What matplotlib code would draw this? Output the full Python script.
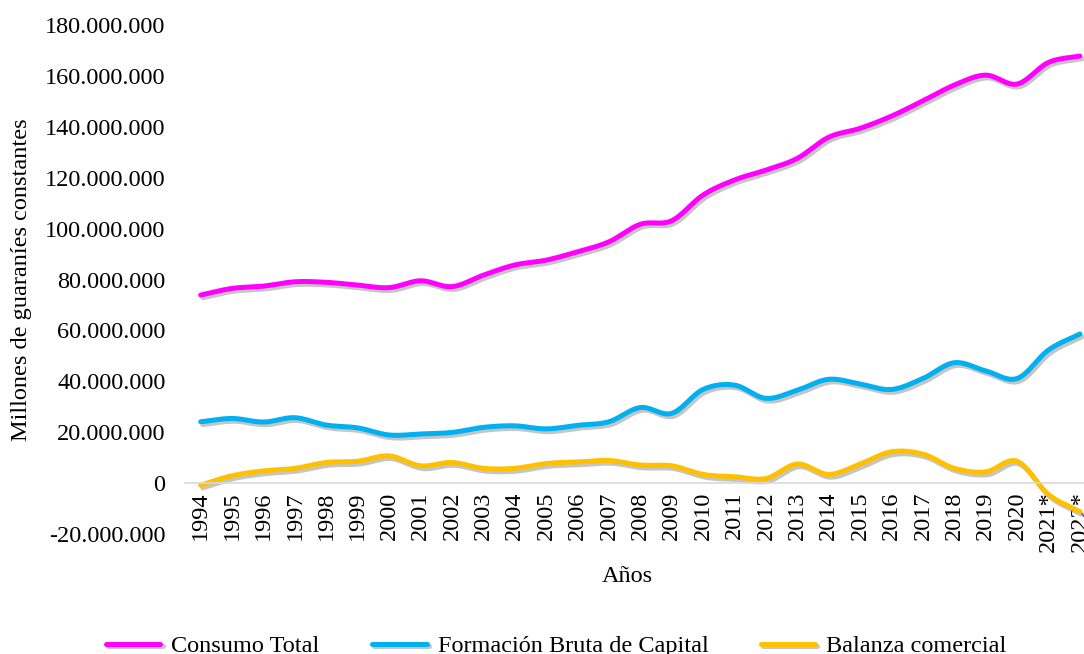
import numpy as np
import matplotlib
matplotlib.use("Agg")
import matplotlib.pyplot as plt
import matplotlib.patheffects as pe
from matplotlib.ticker import FuncFormatter

plt.rcParams['font.family'] = ['Liberation Serif', 'DejaVu Serif']

# datos (millones de guaranies constantes)
anios = ['1994', '1995', '1996', '1997', '1998', '1999', '2000', '2001', '2002', '2003',
         '2004', '2005', '2006', '2007', '2008', '2009', '2010', '2011', '2012', '2013',
         '2014', '2015', '2016', '2017', '2018', '2019', '2020', '2021*', '2022*']

consumo = [73.9, 76.5, 77.4, 79.1, 78.9, 77.8, 76.8, 79.5, 77.2, 81.7,
           85.7, 87.6, 90.9, 94.8, 101.7, 103.1, 113.2, 119.1, 123.0, 127.6,
           135.9, 139.4, 144.2, 150.2, 156.4, 160.3, 156.8, 165.3, 167.8]

fbk = [24.1, 25.4, 24.0, 25.7, 22.8, 21.7, 18.9, 19.3, 19.9, 21.9,
       22.5, 21.3, 22.7, 24.1, 29.7, 27.4, 36.8, 38.5, 33.3, 36.5,
       40.8, 38.9, 36.8, 41.1, 47.3, 44.1, 41.1, 52.3, 58.6]

balanza = [-0.8, 2.9, 4.8, 5.8, 8.1, 8.6, 10.7, 6.8, 8.1, 5.8,
           5.8, 7.7, 8.3, 8.9, 7.1, 6.8, 3.4, 2.5, 1.8, 7.5,
           3.4, 7.5, 12.3, 11.4, 5.8, 4.4, 8.6, -4.5, -11.2]

series = [('Consumo Total', consumo, '#FF00FF'),
          ('Formación Bruta de Capital', fbk, '#00B0F0'),
          ('Balanza comercial', balanza, '#FFC000')]


# suavizado tipo excel (catmull-rom)
def suavizar(y, n=20):
    y = np.asarray(y, dtype=float) * 1e6
    x = np.arange(len(y), dtype=float)
    px = np.concatenate([[2 * x[0] - x[1]], x, [2 * x[-1] - x[-2]]])
    py = np.concatenate([[2 * y[0] - y[1]], y, [2 * y[-1] - y[-2]]])
    xs, ys = [], []
    t = np.linspace(0, 1, n, endpoint=False)
    for i in range(1, len(px) - 2):
        for p, out in ((px, xs), (py, ys)):
            p0, p1, p2, p3 = p[i - 1], p[i], p[i + 1], p[i + 2]
            out.extend(0.5 * (2 * p1 + (-p0 + p2) * t + (2 * p0 - 5 * p1 + 4 * p2 - p3) * t ** 2
                              + (-p0 + 3 * p1 - 3 * p2 + p3) * t ** 3))
    xs.append(x[-1])
    ys.append(y[-1])
    return np.array(xs), np.array(ys)


fig = plt.figure(figsize=(10.84, 6.54), dpi=100)
ax = fig.add_axes([185 / 1084, 1 - 534 / 654, 29 * 31.4 / 1084, 509 / 654])

sombra = [pe.SimpleLineShadow(offset=(1.5, -2), shadow_color='#808080', alpha=0.45),
          pe.Normal()]

for nombre, vals, color in series:
    xs, ys = suavizar(vals)
    ax.plot(xs, ys, color=color, lw=3.6, label=nombre, solid_capstyle='round',
            path_effects=sombra)

ax.set_xlim(-0.5, len(anios) - 0.5)
ax.set_ylim(-20e6, 180e6)
ax.set_yticks(np.arange(-20e6, 180e6 + 1, 20e6))
ax.yaxis.set_major_formatter(FuncFormatter(lambda v, p: f'{v:,.0f}'.replace(',', '.')))
ax.set_xticks(range(len(anios)))
ax.set_xticklabels(anios)
ax.tick_params(axis='both', length=0, labelsize=17.5)
ax.tick_params(axis='x', pad=6, labelrotation=90)
ax.tick_params(axis='y', pad=14)
for lab in ax.get_xticklabels():
    lab.set_va('top')
    lab.set_ha('center')

for s in ['top', 'right', 'left']:
    ax.spines[s].set_visible(False)
ax.spines['bottom'].set_position(('data', 0))
ax.spines['bottom'].set_color('#D9D9D9')
ax.spines['bottom'].set_linewidth(1.2)

fig.text(22 / 1084, 1 - 280 / 654, 'Millones de guaraníes constantes', rotation=90,
         ha='center', va='center', fontsize=17.5)
fig.text(627 / 1084, 1 - 577 / 654, 'Años', ha='center', va='center', fontsize=17.5)

fig.legend(loc='center', bbox_to_anchor=(0.513, 0.012), ncol=3, frameon=False,
           fontsize=17.5, handlelength=2.25, handletextpad=0.45, columnspacing=2.15)

fig.savefig('out.png', dpi=100)
